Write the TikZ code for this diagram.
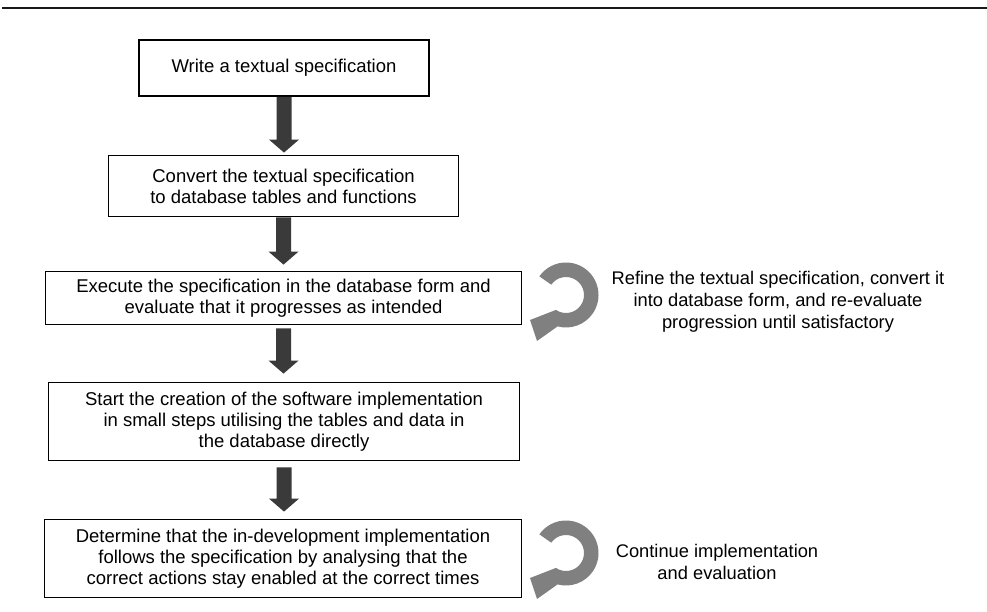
\documentclass[tikz,border=0pt]{standalone}
\usepackage{fontspec}
\setmainfont{Liberation Sans}
\usetikzlibrary{calc}
\definecolor{arrowdark}{RGB}{58,58,58}
\definecolor{loopgray}{RGB}{128,128,128}
\definecolor{rulegray}{RGB}{25,25,25}
\begin{document}
\begin{tikzpicture}[x=1pt,y=-1pt,
  stepbox/.style={draw=black, line width=1.8pt, fill=white, align=center,
    inner sep=0pt, font=\fontsize{18.5}{21}\selectfont},
  note/.style={align=center, inner sep=0pt, font=\fontsize{18.3}{22}\selectfont},
  % thick downward block arrow between two anchors
  blockarrow/.style={fill=arrowdark, draw=none,
    to path={let \p1=(\tikztostart), \p2=(\tikztotarget) in
      (\x1-7.5pt,\y1) -- (\x1+7.5pt,\y1) -- (\x1+7.5pt,\y2+13pt)
      -- (\x1+15pt,\y2+13pt) -- (\x1,\y2) -- (\x1-15pt,\y2+13pt)
      -- (\x1-7.5pt,\y2+13pt) -- cycle}},
  % circular "repeat" arrow, centred on the pic position
  looparrow/.pic={
    \fill[loopgray] (-145:32.5) arc[start angle=-145, end angle=105, radius=32.5]
      -- (-29,46) -- (-36,25) -- (124:18)
      arc[start angle=124, end angle=-145, radius=18] -- cycle;
  }]
\useasboundingbox (0,0) rectangle (987,612);

% header rule
\coordinate (ruleL) at (2,8);
\coordinate (ruleR) at (987,8);
\draw[rulegray, line width=2.6pt] (ruleL) -- (ruleR);

% process steps
\node[stepbox, minimum width=290, minimum height=56] (b1) at (284,68)
  {Write a textual specification};
\node[stepbox, minimum width=350, minimum height=61] (b2) at (283.5,186)
  {Convert the textual specification\\to database tables and functions};
\node[stepbox, minimum width=476, minimum height=53] (b3) at (283.5,298)
  {Execute the specification in the database form and\\evaluate that it progresses as intended};
\node[stepbox, minimum width=471, minimum height=78] (b4) at (284,421.5)
  {Start the creation of the software implementation\\in small steps utilising the tables and data in\\the database directly};
\node[stepbox, minimum width=477, minimum height=78] (b5) at (283,558.5)
  {Determine that the in-development implementation\\follows the specification by analysing that the\\correct actions stay enabled at the correct times};

% flow arrows
\path[blockarrow] (b1.south) to ([yshift=2pt]b2.north);
\path[blockarrow] (b2.south) to ([yshift=6pt]b3.north);
\path[blockarrow] ([yshift=-3pt]b3.south) to ([yshift=8pt]b4.north);
\path[blockarrow] ([yshift=-6pt]b4.south) to ([yshift=7pt]b5.north);

% iteration loops
\pic (loop1) at (566,295) {looparrow};
\pic (loop2) at (566,553) {looparrow};

\node[note] (n1) at (778,302)
  {Refine the textual specification, convert it\\into database form, and re-evaluate\\progression until satisfactory};
\node[note] (n2) at (717,562)
  {Continue implementation\\and evaluation};
\end{tikzpicture}
\end{document}
